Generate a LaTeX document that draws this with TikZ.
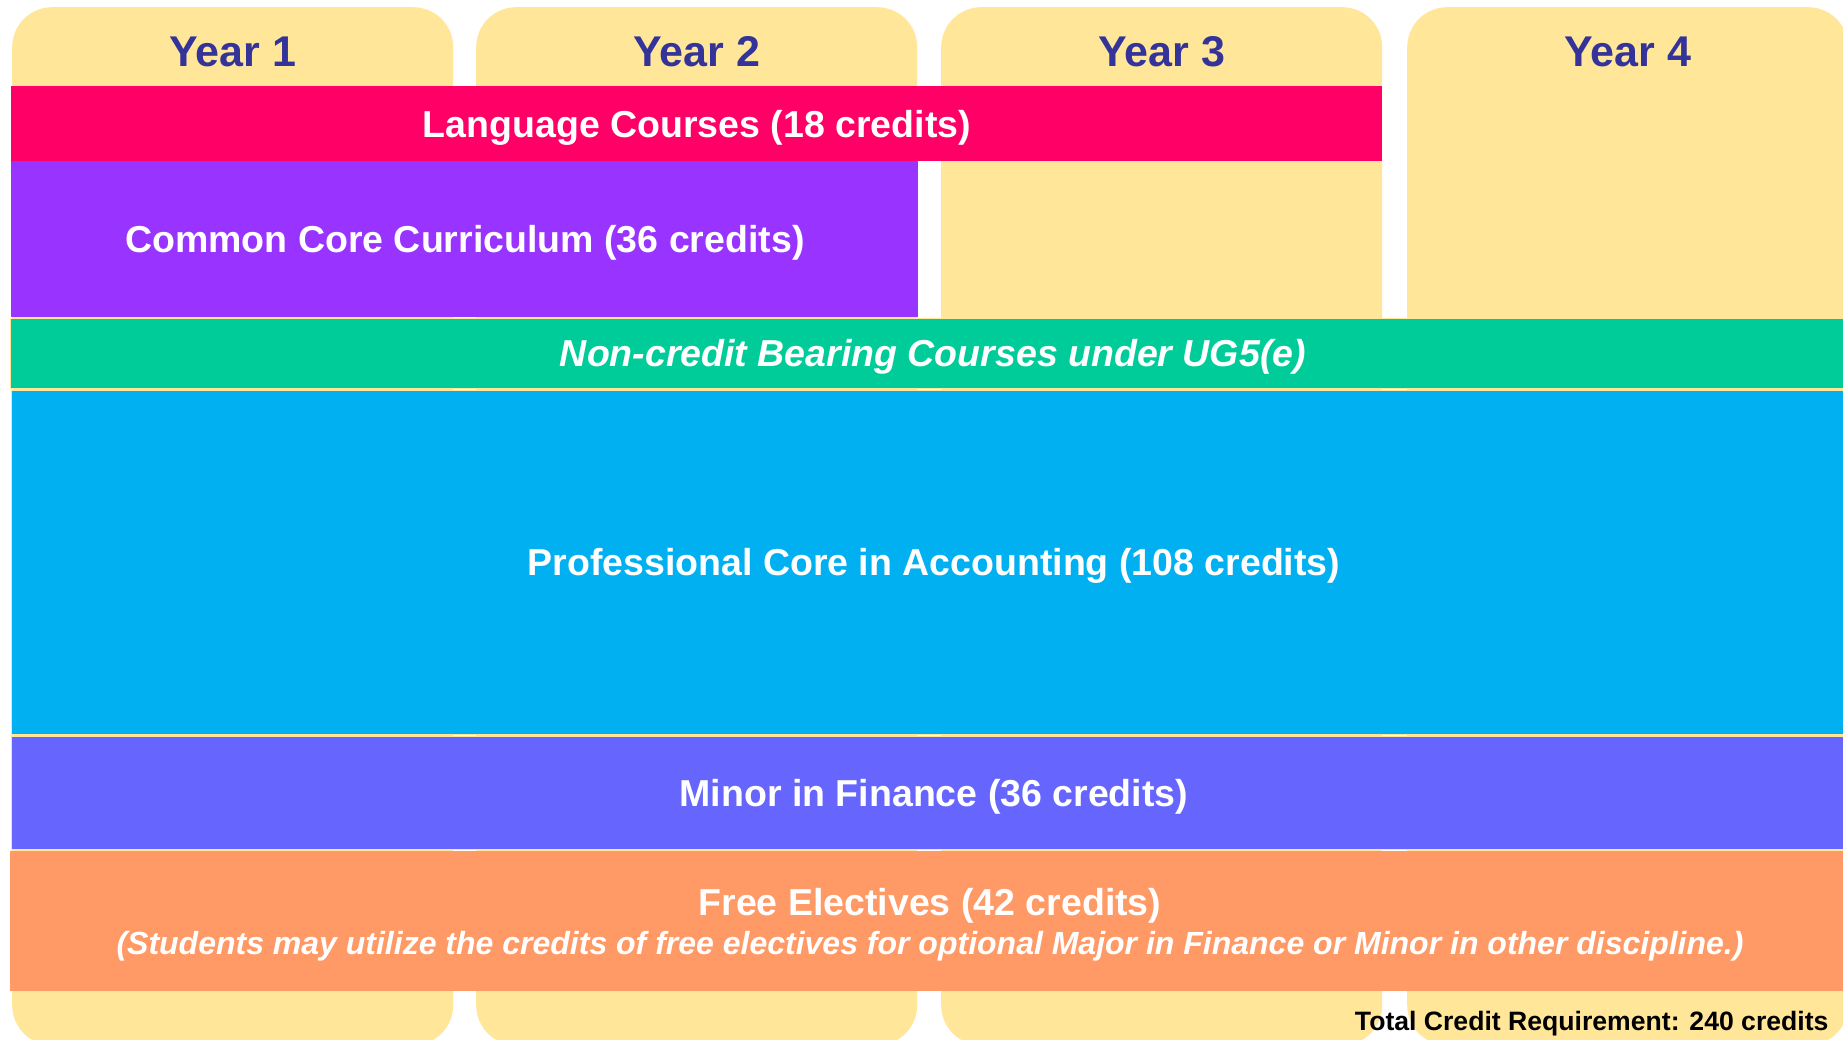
\documentclass[tikz,border=0pt]{standalone}
\usepackage{fontspec}
\setmainfont{Liberation Sans}
\usetikzlibrary{positioning}
\definecolor{yearfill}{HTML}{FFE699}
\definecolor{yeartext}{HTML}{333399}
\definecolor{langred}{HTML}{FF0066}
\definecolor{corepurple}{HTML}{9933FF}
\definecolor{ncgreen}{HTML}{00CC99}
\definecolor{profblue}{HTML}{00B0F0}
\definecolor{minorblue}{HTML}{6666FF}
\definecolor{freeorange}{HTML}{FF9966}
\tikzset{%
  yearcol/.style={rectangle,rounded corners=40pt,fill=yearfill,minimum width=441pt,minimum height=1038pt,inner sep=0pt,anchor=north west},
  yearlabel/.style={text=yeartext,font=\fontsize{43}{52}\selectfont\bfseries},
  band/.style={rectangle,inner sep=0pt,anchor=north west,text=white,align=center,text depth=0pt,draw=yearfill,line width=0.8pt,font=\fontsize{37.5}{45}\selectfont\bfseries}%
}

\begin{document}
\begin{tikzpicture}[x=1pt,y=-1pt]
      \clip (0,0) rectangle (1843,1040);
      \fill[white] (0,0) rectangle (1843,1040);

      % year columns
      \foreach \i/\x in {1/12,2/476,3/941,4/1407} {
        \node[yearcol] (col\i) at (\x,7) {};
        \node[yearlabel] (year\i) at ([yshift=-45pt]col\i.north) {Year \i};
      }

      % course bands
      \node[band, fill=langred, draw=none, minimum width=1371pt, minimum height=75pt] (lang) at (11,86) {Language Courses (18 credits)};
      \node[band, fill=corepurple, draw=none, minimum width=907pt, minimum height=156pt] (core) at (11,161) {Common Core Curriculum (36 credits)};
      \node[band, fill=ncgreen, minimum width=1845pt, minimum height=70pt] (noncredit) at (10,318) {\itshape Non-credit Bearing Courses under UG5(e)};
      \node[band, fill=profblue, minimum width=1845pt, minimum height=344pt] (prof) at (11,390) {Professional Core in Accounting (108 credits)};
      \node[band, fill=minorblue, minimum width=1845pt, minimum height=113pt] (minor) at (11,736) {Minor in Finance (36 credits)};
      \node[band, fill=freeorange, draw=none, minimum width=1845pt, minimum height=140pt] (free) at (10,851) {};
      \node[text=white, font=\fontsize{37.5}{45}\selectfont\bfseries] (freetitle) at (930,906) {Free Electives (42 credits)};
      \node[text=white, font=\fontsize{32}{38}\selectfont\bfseries\itshape] (freenote) at (930,946) {(Students may utilize the credits of free electives for optional Major in Finance or Minor in other discipline.)};

      \node[anchor=east, font=\fontsize{26.6}{32}\selectfont\bfseries] (total) at (1832,1024) {Total Credit Requirement: 240 credits};
    \end{tikzpicture}
\end{document}
